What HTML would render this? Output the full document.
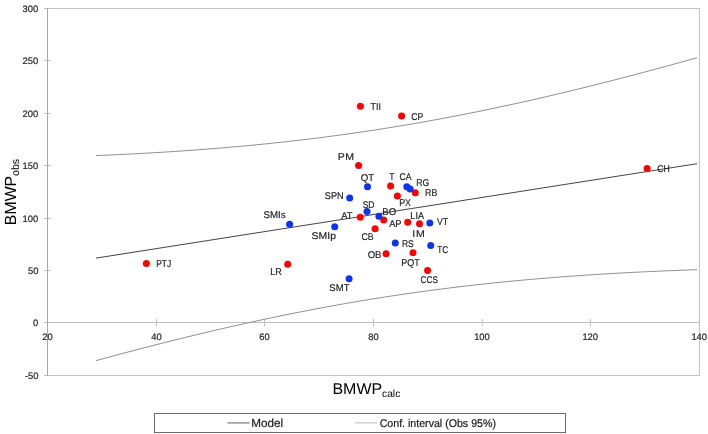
<!DOCTYPE html><html><head><meta charset="utf-8"><style>html,body{margin:0;padding:0;background:#fff;}svg{display:block;will-change:transform;text-rendering:geometricPrecision;}text{font-family:"Liberation Sans",sans-serif;}</style></head><body>
<svg width="708" height="434" viewBox="0 0 708 434">
<rect width="708" height="434" fill="#fff"/>
<g shape-rendering="crispEdges" stroke-width="1" fill="none">
<path d="M47 8.5H699.5M699.5 8V375M47 375.5H699.5" stroke="#c4c4c4"/>
<path d="M47 322.5H699" stroke="#bfbfbf"/>
<path d="M47.5 319V326" stroke="#bfbfbf"/>
<path d="M156.5 319V326" stroke="#bfbfbf"/>
<path d="M264.5 319V326" stroke="#bfbfbf"/>
<path d="M373.5 319V326" stroke="#bfbfbf"/>
<path d="M590.5 319V326" stroke="#bfbfbf"/>
<path d="M699.5 319V326" stroke="#bfbfbf"/>
<path d="M44 8.5H51" stroke="#bfbfbf"/>
<path d="M44 60.5H51" stroke="#bfbfbf"/>
<path d="M44 113.5H51" stroke="#bfbfbf"/>
<path d="M44 165.5H51" stroke="#bfbfbf"/>
<path d="M44 218.5H51" stroke="#bfbfbf"/>
<path d="M44 270.5H51" stroke="#bfbfbf"/>
<path d="M44 322.5H51" stroke="#bfbfbf"/>
<path d="M44 375.5H51" stroke="#bfbfbf"/>
<path d="M47.5 8V376" stroke="#a6a6a6"/>
</g>
<path d="M482.25 319V326" stroke="#bfbfbf" stroke-width="1"/>
<polyline points="96.0,155.59 99.0,155.46 102.0,155.33 105.0,155.21 108.0,155.07 111.0,154.94 114.0,154.80 117.0,154.66 120.0,154.52 123.0,154.38 126.0,154.23 129.0,154.08 132.0,153.92 135.0,153.77 138.0,153.61 141.0,153.45 144.0,153.28 147.0,153.12 150.0,152.95 153.0,152.77 156.0,152.60 159.0,152.42 162.0,152.24 165.0,152.05 168.0,151.86 171.0,151.67 174.0,151.48 177.0,151.28 180.0,151.08 183.0,150.87 186.0,150.67 189.0,150.45 192.0,150.24 195.0,150.02 198.0,149.80 201.0,149.58 204.0,149.35 207.0,149.12 210.0,148.89 213.0,148.65 216.0,148.41 219.0,148.16 222.0,147.91 225.0,147.66 228.0,147.41 231.0,147.15 234.0,146.88 237.0,146.62 240.0,146.35 243.0,146.07 246.0,145.79 249.0,145.51 252.0,145.23 255.0,144.94 258.0,144.64 261.0,144.35 264.0,144.04 267.0,143.74 270.0,143.43 273.0,143.12 276.0,142.80 279.0,142.48 282.0,142.15 285.0,141.82 288.0,141.49 291.0,141.15 294.0,140.81 297.0,140.46 300.0,140.11 303.0,139.76 306.0,139.40 309.0,139.04 312.0,138.67 315.0,138.30 318.0,137.93 321.0,137.55 324.0,137.16 327.0,136.77 330.0,136.38 333.0,135.98 336.0,135.58 339.0,135.18 342.0,134.77 345.0,134.35 348.0,133.93 351.0,133.51 354.0,133.08 357.0,132.65 360.0,132.21 363.0,131.77 366.0,131.33 369.0,130.88 372.0,130.42 375.0,129.97 378.0,129.50 381.0,129.03 384.0,128.56 387.0,128.09 390.0,127.61 393.0,127.12 396.0,126.63 399.0,126.14 402.0,125.64 405.0,125.13 408.0,124.63 411.0,124.12 414.0,123.60 417.0,123.08 420.0,122.55 423.0,122.02 426.0,121.49 429.0,120.95 432.0,120.41 435.0,119.86 438.0,119.31 441.0,118.76 444.0,118.20 447.0,117.63 450.0,117.06 453.0,116.49 456.0,115.91 459.0,115.33 462.0,114.75 465.0,114.16 468.0,113.56 471.0,112.97 474.0,112.36 477.0,111.76 480.0,111.15 483.0,110.53 486.0,109.91 489.0,109.29 492.0,108.67 495.0,108.04 498.0,107.40 501.0,106.76 504.0,106.12 507.0,105.47 510.0,104.82 513.0,104.17 516.0,103.51 519.0,102.85 522.0,102.18 525.0,101.51 528.0,100.84 531.0,100.16 534.0,99.48 537.0,98.80 540.0,98.11 543.0,97.42 546.0,96.72 549.0,96.03 552.0,95.32 555.0,94.62 558.0,93.91 561.0,93.20 564.0,92.48 567.0,91.76 570.0,91.04 573.0,90.31 576.0,89.58 579.0,88.85 582.0,88.11 585.0,87.37 588.0,86.63 591.0,85.89 594.0,85.14 597.0,84.38 600.0,83.63 603.0,82.87 606.0,82.11 609.0,81.35 612.0,80.58 615.0,79.81 618.0,79.04 621.0,78.26 624.0,77.48 627.0,76.70 630.0,75.91 633.0,75.13 636.0,74.34 639.0,73.54 642.0,72.75 645.0,71.95 648.0,71.15 651.0,70.34 654.0,69.54 657.0,68.73 660.0,67.92 663.0,67.10 666.0,66.29 669.0,65.47 672.0,64.65 675.0,63.82 678.0,63.00 681.0,62.17 684.0,61.34 687.0,60.50 690.0,59.67 693.0,58.83 696.0,57.99 697.0,57.71" fill="none" stroke="#929292" stroke-width="1"/>
<polyline points="96.0,360.61 99.0,359.80 102.0,358.98 105.0,358.17 108.0,357.36 111.0,356.55 114.0,355.74 117.0,354.94 120.0,354.14 123.0,353.34 126.0,352.55 129.0,351.76 132.0,350.97 135.0,350.18 138.0,349.40 141.0,348.62 144.0,347.84 147.0,347.06 150.0,346.29 153.0,345.52 156.0,344.76 159.0,343.99 162.0,343.23 165.0,342.47 168.0,341.72 171.0,340.97 174.0,340.22 177.0,339.48 180.0,338.74 183.0,338.00 186.0,337.26 189.0,336.53 192.0,335.80 195.0,335.08 198.0,334.36 201.0,333.64 204.0,332.92 207.0,332.21 210.0,331.50 213.0,330.80 216.0,330.10 219.0,329.40 222.0,328.71 225.0,328.01 228.0,327.33 231.0,326.65 234.0,325.97 237.0,325.29 240.0,324.62 243.0,323.95 246.0,323.29 249.0,322.63 252.0,321.97 255.0,321.32 258.0,320.67 261.0,320.02 264.0,319.38 267.0,318.74 270.0,318.11 273.0,317.48 276.0,316.86 279.0,316.23 282.0,315.62 285.0,315.00 288.0,314.40 291.0,313.79 294.0,313.19 297.0,312.59 300.0,312.00 303.0,311.41 306.0,310.83 309.0,310.25 312.0,309.67 315.0,309.10 318.0,308.54 321.0,307.97 324.0,307.41 327.0,306.86 330.0,306.31 333.0,305.76 336.0,305.22 339.0,304.69 342.0,304.15 345.0,303.63 348.0,303.10 351.0,302.58 354.0,302.07 357.0,301.56 360.0,301.05 363.0,300.55 366.0,300.05 369.0,299.56 372.0,299.07 375.0,298.59 378.0,298.11 381.0,297.64 384.0,297.16 387.0,296.70 390.0,296.24 393.0,295.78 396.0,295.33 399.0,294.88 402.0,294.44 405.0,294.00 408.0,293.56 411.0,293.13 414.0,292.70 417.0,292.28 420.0,291.86 423.0,291.45 426.0,291.04 429.0,290.64 432.0,290.24 435.0,289.84 438.0,289.45 441.0,289.07 444.0,288.68 447.0,288.30 450.0,287.93 453.0,287.56 456.0,287.20 459.0,286.83 462.0,286.48 465.0,286.12 468.0,285.78 471.0,285.43 474.0,285.09 477.0,284.75 480.0,284.42 483.0,284.09 486.0,283.77 489.0,283.45 492.0,283.13 495.0,282.82 498.0,282.52 501.0,282.21 504.0,281.91 507.0,281.62 510.0,281.32 513.0,281.03 516.0,280.75 519.0,280.47 522.0,280.19 525.0,279.92 528.0,279.65 531.0,279.39 534.0,279.12 537.0,278.87 540.0,278.61 543.0,278.36 546.0,278.11 549.0,277.87 552.0,277.63 555.0,277.39 558.0,277.16 561.0,276.93 564.0,276.70 567.0,276.48 570.0,276.26 573.0,276.04 576.0,275.83 579.0,275.62 582.0,275.41 585.0,275.21 588.0,275.01 591.0,274.82 594.0,274.62 597.0,274.43 600.0,274.24 603.0,274.06 606.0,273.88 609.0,273.70 612.0,273.53 615.0,273.35 618.0,273.18 621.0,273.02 624.0,272.85 627.0,272.69 630.0,272.54 633.0,272.38 636.0,272.23 639.0,272.08 642.0,271.93 645.0,271.79 648.0,271.65 651.0,271.51 654.0,271.37 657.0,271.24 660.0,271.11 663.0,270.98 666.0,270.85 669.0,270.73 672.0,270.61 675.0,270.49 678.0,270.37 681.0,270.26 684.0,270.15 687.0,270.04 690.0,269.93 693.0,269.83 696.0,269.73 697.0,269.69" fill="none" stroke="#929292" stroke-width="1"/>
<polyline points="96.0,258.10 99.0,257.63 102.0,257.16 105.0,256.69 108.0,256.22 111.0,255.74 114.0,255.27 117.0,254.80 120.0,254.33 123.0,253.86 126.0,253.39 129.0,252.92 132.0,252.45 135.0,251.97 138.0,251.50 141.0,251.03 144.0,250.56 147.0,250.09 150.0,249.62 153.0,249.15 156.0,248.68 159.0,248.20 162.0,247.73 165.0,247.26 168.0,246.79 171.0,246.32 174.0,245.85 177.0,245.38 180.0,244.91 183.0,244.43 186.0,243.96 189.0,243.49 192.0,243.02 195.0,242.55 198.0,242.08 201.0,241.61 204.0,241.14 207.0,240.67 210.0,240.19 213.0,239.72 216.0,239.25 219.0,238.78 222.0,238.31 225.0,237.84 228.0,237.37 231.0,236.90 234.0,236.42 237.0,235.95 240.0,235.48 243.0,235.01 246.0,234.54 249.0,234.07 252.0,233.60 255.0,233.13 258.0,232.65 261.0,232.18 264.0,231.71 267.0,231.24 270.0,230.77 273.0,230.30 276.0,229.83 279.0,229.36 282.0,228.88 285.0,228.41 288.0,227.94 291.0,227.47 294.0,227.00 297.0,226.53 300.0,226.06 303.0,225.59 306.0,225.12 309.0,224.64 312.0,224.17 315.0,223.70 318.0,223.23 321.0,222.76 324.0,222.29 327.0,221.82 330.0,221.35 333.0,220.87 336.0,220.40 339.0,219.93 342.0,219.46 345.0,218.99 348.0,218.52 351.0,218.05 354.0,217.58 357.0,217.10 360.0,216.63 363.0,216.16 366.0,215.69 369.0,215.22 372.0,214.75 375.0,214.28 378.0,213.81 381.0,213.34 384.0,212.86 387.0,212.39 390.0,211.92 393.0,211.45 396.0,210.98 399.0,210.51 402.0,210.04 405.0,209.57 408.0,209.09 411.0,208.62 414.0,208.15 417.0,207.68 420.0,207.21 423.0,206.74 426.0,206.27 429.0,205.80 432.0,205.32 435.0,204.85 438.0,204.38 441.0,203.91 444.0,203.44 447.0,202.97 450.0,202.50 453.0,202.03 456.0,201.55 459.0,201.08 462.0,200.61 465.0,200.14 468.0,199.67 471.0,199.20 474.0,198.73 477.0,198.26 480.0,197.79 483.0,197.31 486.0,196.84 489.0,196.37 492.0,195.90 495.0,195.43 498.0,194.96 501.0,194.49 504.0,194.02 507.0,193.54 510.0,193.07 513.0,192.60 516.0,192.13 519.0,191.66 522.0,191.19 525.0,190.72 528.0,190.25 531.0,189.77 534.0,189.30 537.0,188.83 540.0,188.36 543.0,187.89 546.0,187.42 549.0,186.95 552.0,186.48 555.0,186.00 558.0,185.53 561.0,185.06 564.0,184.59 567.0,184.12 570.0,183.65 573.0,183.18 576.0,182.71 579.0,182.24 582.0,181.76 585.0,181.29 588.0,180.82 591.0,180.35 594.0,179.88 597.0,179.41 600.0,178.94 603.0,178.47 606.0,177.99 609.0,177.52 612.0,177.05 615.0,176.58 618.0,176.11 621.0,175.64 624.0,175.17 627.0,174.70 630.0,174.22 633.0,173.75 636.0,173.28 639.0,172.81 642.0,172.34 645.0,171.87 648.0,171.40 651.0,170.93 654.0,170.45 657.0,169.98 660.0,169.51 663.0,169.04 666.0,168.57 669.0,168.10 672.0,167.63 675.0,167.16 678.0,166.69 681.0,166.21 684.0,165.74 687.0,165.27 690.0,164.80 693.0,164.33 696.0,163.86 697.0,163.70" fill="none" stroke="#454545" stroke-width="1"/>
<circle cx="146.4" cy="263.6" r="3.5" fill="#ff0000"/>
<circle cx="287.7" cy="264.3" r="3.5" fill="#ff0000"/>
<circle cx="358.6" cy="165.6" r="3.5" fill="#ff0000"/>
<circle cx="360.4" cy="106.3" r="3.5" fill="#ff0000"/>
<circle cx="401.6" cy="116.1" r="3.5" fill="#ff0000"/>
<circle cx="390.6" cy="185.9" r="3.5" fill="#ff0000"/>
<circle cx="415.3" cy="192.8" r="3.5" fill="#ff0000"/>
<circle cx="397.4" cy="195.9" r="3.5" fill="#ff0000"/>
<circle cx="360.3" cy="217.3" r="3.5" fill="#ff0000"/>
<circle cx="383.7" cy="220.1" r="3.5" fill="#ff0000"/>
<circle cx="407.7" cy="222.3" r="3.5" fill="#ff0000"/>
<circle cx="419.5" cy="223.8" r="3.5" fill="#ff0000"/>
<circle cx="375.1" cy="228.7" r="3.5" fill="#ff0000"/>
<circle cx="386.1" cy="253.7" r="3.5" fill="#ff0000"/>
<circle cx="413" cy="252.7" r="3.5" fill="#ff0000"/>
<circle cx="427.6" cy="270.5" r="3.5" fill="#ff0000"/>
<circle cx="647.1" cy="168.4" r="3.5" fill="#ff0000"/>
<circle cx="289.6" cy="224.2" r="3.5" fill="#0c34f0"/>
<circle cx="334.7" cy="226.8" r="3.5" fill="#0c34f0"/>
<circle cx="349.1" cy="278.7" r="3.5" fill="#0c34f0"/>
<circle cx="367.5" cy="186.7" r="3.5" fill="#0c34f0"/>
<circle cx="406.8" cy="186.8" r="3.5" fill="#0c34f0"/>
<circle cx="410.1" cy="188.9" r="3.5" fill="#0c34f0"/>
<circle cx="349.7" cy="198.0" r="3.5" fill="#0c34f0"/>
<circle cx="367.0" cy="211.6" r="3.5" fill="#0c34f0"/>
<circle cx="378.9" cy="216.3" r="3.5" fill="#0c34f0"/>
<circle cx="429.8" cy="223.1" r="3.5" fill="#0c34f0"/>
<circle cx="395.3" cy="243.0" r="3.5" fill="#0c34f0"/>
<circle cx="430.7" cy="245.6" r="3.5" fill="#0c34f0"/>
<text x="156.26" y="266.94" font-size="9.75" textLength="14.95" lengthAdjust="spacingAndGlyphs" fill="#1e1e1e" stroke="#1e1e1e" stroke-width="0.18">PTJ</text>
<text x="270.13" y="275.04" font-size="9.75" textLength="11.53" lengthAdjust="spacingAndGlyphs" fill="#1e1e1e" stroke="#1e1e1e" stroke-width="0.18">LR</text>
<text x="263.47" y="217.84" font-size="9.75" textLength="22.15" lengthAdjust="spacingAndGlyphs" fill="#1e1e1e" stroke="#1e1e1e" stroke-width="0.18">SMIs</text>
<text x="311.64" y="238.89" font-size="9.75" textLength="24.35" lengthAdjust="spacingAndGlyphs" fill="#1e1e1e" stroke="#1e1e1e" stroke-width="0.18">SMIp</text>
<text x="329.37" y="291.49" font-size="9.75" textLength="20.09" lengthAdjust="spacingAndGlyphs" fill="#1e1e1e" stroke="#1e1e1e" stroke-width="0.18">SMT</text>
<text transform="translate(337.72,160.04) scale(1.08,1)" font-size="9.75" letter-spacing="0.36" fill="#1e1e1e" stroke="#1e1e1e" stroke-width="0.18">PM</text>
<text x="370.52" y="109.89" font-size="9.75" textLength="10.45" lengthAdjust="spacingAndGlyphs" fill="#1e1e1e" stroke="#1e1e1e" stroke-width="0.18">TII</text>
<text x="411.33" y="119.89" font-size="9.75" textLength="12.05" lengthAdjust="spacingAndGlyphs" fill="#1e1e1e" stroke="#1e1e1e" stroke-width="0.18">CP</text>
<text x="360.74" y="181.09" font-size="9.75" textLength="13.46" lengthAdjust="spacingAndGlyphs" fill="#1e1e1e" stroke="#1e1e1e" stroke-width="0.18">QT</text>
<text x="389.15" y="180.04" font-size="9.75" textLength="5.29" lengthAdjust="spacingAndGlyphs" fill="#1e1e1e" stroke="#1e1e1e" stroke-width="0.18">T</text>
<text x="399.43" y="180.44" font-size="9.75" textLength="11.98" lengthAdjust="spacingAndGlyphs" fill="#1e1e1e" stroke="#1e1e1e" stroke-width="0.18">CA</text>
<text x="416.25" y="185.64" font-size="9.75" textLength="13.01" lengthAdjust="spacingAndGlyphs" fill="#1e1e1e" stroke="#1e1e1e" stroke-width="0.18">RG</text>
<text x="425.03" y="196.49" font-size="9.75" textLength="12.28" lengthAdjust="spacingAndGlyphs" fill="#1e1e1e" stroke="#1e1e1e" stroke-width="0.18">RB</text>
<text x="399.13" y="206.39" font-size="9.75" textLength="11.79" lengthAdjust="spacingAndGlyphs" fill="#1e1e1e" stroke="#1e1e1e" stroke-width="0.18">PX</text>
<text x="324.84" y="198.84" font-size="9.75" textLength="18.88" lengthAdjust="spacingAndGlyphs" fill="#1e1e1e" stroke="#1e1e1e" stroke-width="0.18">SPN</text>
<text x="362.71" y="207.69" font-size="9.75" textLength="11.75" lengthAdjust="spacingAndGlyphs" fill="#1e1e1e" stroke="#1e1e1e" stroke-width="0.18">SD</text>
<text x="341.15" y="219.04" font-size="9.75" textLength="11.26" lengthAdjust="spacingAndGlyphs" fill="#1e1e1e" stroke="#1e1e1e" stroke-width="0.18">AT</text>
<text x="382.28" y="214.64" font-size="9.75" textLength="13.89" lengthAdjust="spacingAndGlyphs" fill="#1e1e1e" stroke="#1e1e1e" stroke-width="0.18">BO</text>
<text x="389.15" y="227.09" font-size="9.75" textLength="12.47" lengthAdjust="spacingAndGlyphs" fill="#1e1e1e" stroke="#1e1e1e" stroke-width="0.18">AP</text>
<text x="410.33" y="219.34" font-size="9.75" textLength="13.67" lengthAdjust="spacingAndGlyphs" fill="#1e1e1e" stroke="#1e1e1e" stroke-width="0.18">LIA</text>
<text x="437.00" y="224.94" font-size="9.75" textLength="11.19" lengthAdjust="spacingAndGlyphs" fill="#1e1e1e" stroke="#1e1e1e" stroke-width="0.18">VT</text>
<text transform="translate(412.13,236.79) scale(1.08,1)" font-size="9.75" letter-spacing="0.89" fill="#1e1e1e" stroke="#1e1e1e" stroke-width="0.18">IM</text>
<text x="361.53" y="239.54" font-size="9.75" textLength="12.20" lengthAdjust="spacingAndGlyphs" fill="#1e1e1e" stroke="#1e1e1e" stroke-width="0.18">CB</text>
<text x="401.97" y="247.04" font-size="9.75" textLength="11.84" lengthAdjust="spacingAndGlyphs" fill="#1e1e1e" stroke="#1e1e1e" stroke-width="0.18">RS</text>
<text x="437.26" y="252.94" font-size="9.75" textLength="10.95" lengthAdjust="spacingAndGlyphs" fill="#1e1e1e" stroke="#1e1e1e" stroke-width="0.18">TC</text>
<text x="367.64" y="258.44" font-size="9.75" textLength="13.90" lengthAdjust="spacingAndGlyphs" fill="#1e1e1e" stroke="#1e1e1e" stroke-width="0.18">OB</text>
<text x="401.31" y="265.99" font-size="9.75" textLength="18.60" lengthAdjust="spacingAndGlyphs" fill="#1e1e1e" stroke="#1e1e1e" stroke-width="0.18">PQT</text>
<text x="420.54" y="282.69" font-size="9.75" textLength="17.41" lengthAdjust="spacingAndGlyphs" fill="#1e1e1e" stroke="#1e1e1e" stroke-width="0.18">CCS</text>
<text x="657.13" y="171.84" font-size="9.75" textLength="12.57" lengthAdjust="spacingAndGlyphs" fill="#1e1e1e" stroke="#1e1e1e" stroke-width="0.18">CH</text>
<text x="22.56" y="11.78" font-size="9.4" textLength="15.66" lengthAdjust="spacingAndGlyphs" fill="#262626" stroke="#262626" stroke-width="0.2">300</text>
<text x="22.59" y="63.80" font-size="9.4" textLength="15.66" lengthAdjust="spacingAndGlyphs" fill="#262626" stroke="#262626" stroke-width="0.2">250</text>
<text x="22.54" y="116.76" font-size="9.4" textLength="15.66" lengthAdjust="spacingAndGlyphs" fill="#262626" stroke="#262626" stroke-width="0.2">200</text>
<text x="22.59" y="168.79" font-size="9.4" textLength="15.66" lengthAdjust="spacingAndGlyphs" fill="#262626" stroke="#262626" stroke-width="0.2">150</text>
<text x="22.57" y="221.77" font-size="9.4" textLength="15.66" lengthAdjust="spacingAndGlyphs" fill="#262626" stroke="#262626" stroke-width="0.2">100</text>
<text x="27.93" y="273.84" font-size="9.4" textLength="10.44" lengthAdjust="spacingAndGlyphs" fill="#262626" stroke="#262626" stroke-width="0.2">50</text>
<text x="33.10" y="325.81" font-size="9.4" textLength="5.22" lengthAdjust="spacingAndGlyphs" fill="#262626" stroke="#262626" stroke-width="0.2">0</text>
<text x="24.93" y="378.84" font-size="9.4" textLength="13.56" lengthAdjust="spacingAndGlyphs" fill="#262626" stroke="#262626" stroke-width="0.2">-50</text>
<text x="42.30" y="339.56" font-size="9.4" textLength="10.44" lengthAdjust="spacingAndGlyphs" fill="#262626" stroke="#262626" stroke-width="0.2">20</text>
<text x="151.33" y="339.62" font-size="9.4" textLength="10.44" lengthAdjust="spacingAndGlyphs" fill="#262626" stroke="#262626" stroke-width="0.2">40</text>
<text x="259.30" y="339.60" font-size="9.4" textLength="10.44" lengthAdjust="spacingAndGlyphs" fill="#262626" stroke="#262626" stroke-width="0.2">60</text>
<text x="368.32" y="339.57" font-size="9.4" textLength="10.44" lengthAdjust="spacingAndGlyphs" fill="#262626" stroke="#262626" stroke-width="0.2">80</text>
<text x="474.16" y="339.57" font-size="9.4" textLength="15.66" lengthAdjust="spacingAndGlyphs" fill="#262626" stroke="#262626" stroke-width="0.2">100</text>
<text x="582.42" y="339.57" font-size="9.4" textLength="15.66" lengthAdjust="spacingAndGlyphs" fill="#262626" stroke="#262626" stroke-width="0.2">120</text>
<text x="691.42" y="339.57" font-size="9.4" textLength="15.66" lengthAdjust="spacingAndGlyphs" fill="#262626" stroke="#262626" stroke-width="0.2">140</text>
<text x="332.46" y="393.60" font-size="15.58" textLength="49.74" lengthAdjust="spacingAndGlyphs" fill="#000">BMWP</text>
<text x="382.01" y="396.50" font-size="10.34" textLength="18.28" lengthAdjust="spacingAndGlyphs" fill="#000">calc</text>
<text transform="rotate(-90)" x="-225.13" y="15.50" font-size="16.16" textLength="49.32" lengthAdjust="spacingAndGlyphs" fill="#000">BMWP</text>
<text transform="rotate(-90)" x="-175.95" y="18.94" font-size="10.74" textLength="16.96" lengthAdjust="spacingAndGlyphs" fill="#000">obs</text>
<rect x="154.5" y="413.5" width="411" height="19" fill="none" stroke="#6b6b6b" stroke-width="1" shape-rendering="crispEdges"/>
<path d="M227.5 422.9H249.6" stroke="#939393" stroke-width="1.5"/>
<path d="M355.3 422.8H377.1" stroke="#cfcfcf" stroke-width="1.5"/>
<text x="251.17" y="427.03" font-size="11.80" textLength="31.87" lengthAdjust="spacingAndGlyphs" fill="#1a1a1a" stroke="#1a1a1a" stroke-width="0.2">Model</text>
<text x="379.66" y="426.89" font-size="11.16" textLength="116.27" lengthAdjust="spacingAndGlyphs" fill="#1a1a1a" stroke="#1a1a1a" stroke-width="0.2">Conf. interval (Obs 95%)</text>
</svg></body></html>
